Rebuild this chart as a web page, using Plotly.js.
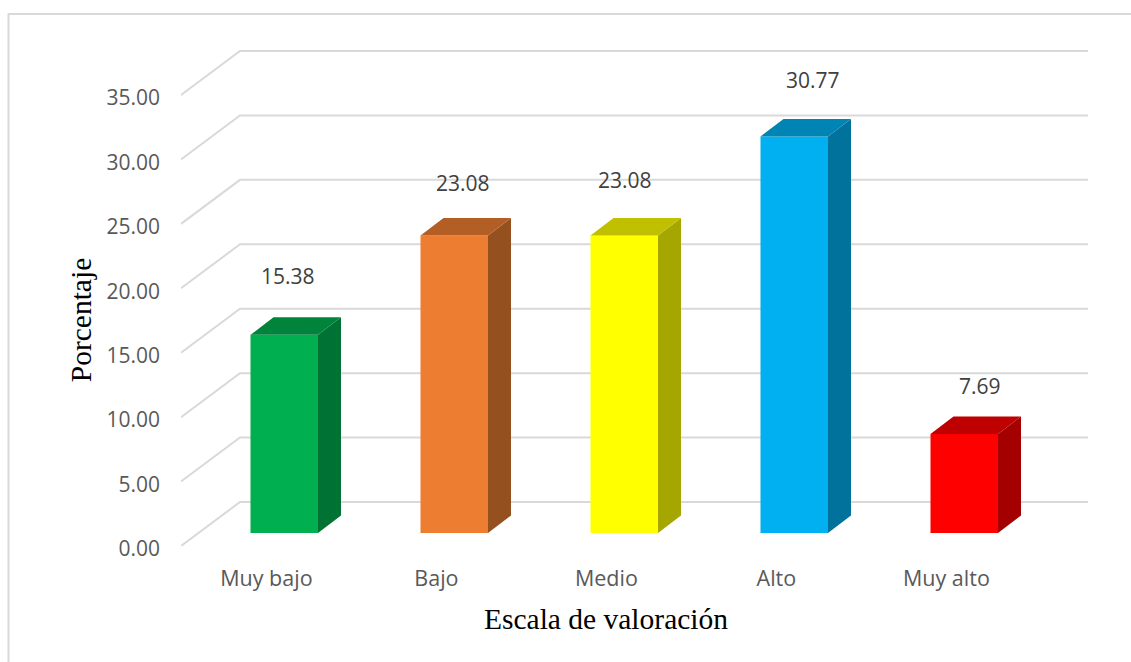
<!DOCTYPE html>
<html>
<head>
<meta charset="utf-8">
<script src="https://cdn.plot.ly/plotly-3.0.1.min.js"></script>
<style>html,body{margin:0;padding:0;background:#fff;overflow:hidden}#chart{width:1131px;height:662px}</style>
</head>
<body>
<div id="chart"></div>
<script>
const categories = ["Muy bajo", "Bajo", "Medio", "Alto", "Muy alto"];
const values = [15.38, 23.08, 23.08, 30.77, 7.69];
const valueLabels = ["15.38", "23.08", "23.08", "30.77", "7.69"];
const frontColors = ["#00b050", "#ed7d31", "#ffff00", "#00b0f0", "#ff0000"];
const topColors = ["#00843c", "#b25e25", "#c0c000", "#0084b4", "#bf0000"];
const sideColors = ["#007233", "#95501f", "#a6a600", "#00729c", "#a50000"];
const yTicks = [0, 5, 10, 15, 20, 25, 30, 35];
const yTickLabels = ["0.00", "5.00", "10.00", "15.00", "20.00", "25.00", "30.00", "35.00"];
const labelShiftX = [4, 9, 1, 19, 16];
const labelShiftY = [59, 53, 56, 57, 48];

// page geometry: full plot box, inner box that centres the axis titles, 3-D projection scale
const W = 1131, H = 662, L = 181, R = 1092, T = 40, B = 546, innerR = 1031, innerT = 94;
const pxPerCat = 170, pxPerVal = 12.886, firstCenter = 284.25;
const fullX = [(L - firstCenter) / pxPerCat, (R - firstCenter) / pxPerCat];
const fullY = [0, (B - T) / pxPerVal];
const innerX = [fullX[0], (innerR - firstCenter) / pxPerCat];
const innerY = [0, (B - innerT) / pxPerVal];
const wallDX = 59 / pxPerCat, wallDY = 44 / pxPerVal;
const wallEndX = (1088 - firstCenter) / pxPerCat;
const barW = 67.5 / pxPerCat, barDX = 23 / pxPerCat, barDY = 17.5 / pxPerVal, lift = 13 / pxPerVal;

const traces = [];
// gridlines: floor diagonal + back wall line for every tick
const gx = [], gy = [];
yTicks.forEach(v => {
  gx.push(fullX[0], fullX[0] + wallDX, wallEndX, null);
  gy.push(v, v + wallDY, v + wallDY, null);
});
traces.push({type: "scatter", mode: "lines", x: gx, y: gy,
  line: {color: "#d9d9d9", width: 2}, showlegend: false, hoverinfo: "skip"});

// front faces
traces.push({type: "bar", x: categories.map((c, i) => i), y: values, base: lift, width: barW,
  marker: {color: frontColors, line: {width: 0}}, xaxis: "x2", yaxis: "y2", showlegend: false, hoverinfo: "skip"});

// side and top faces
values.forEach((v, i) => {
  const r = i + barW / 2, l = i - barW / 2;
  traces.push({type: "scatter", mode: "lines", fill: "toself", fillcolor: sideColors[i],
    x: [r, r + barDX, r + barDX, r, r], y: [lift, lift + barDY, v + lift + barDY, v + lift, lift],
    line: {width: 0, color: sideColors[i]}, xaxis: "x2", yaxis: "y2", showlegend: false, hoverinfo: "skip"});
  traces.push({type: "scatter", mode: "lines", fill: "toself", fillcolor: topColors[i],
    x: [l, l + barDX, r + barDX, r, l], y: [v + lift, v + lift + barDY, v + lift + barDY, v + lift, v + lift],
    line: {width: 0, color: topColors[i]}, xaxis: "x2", yaxis: "y2", showlegend: false, hoverinfo: "skip"});
});

const annotations = values.map((v, i) => ({
  x: i, y: v + lift, xref: "x2", yref: "y2", text: valueLabels[i], showarrow: false,
  xshift: labelShiftX[i], yshift: labelShiftY[i],
  font: {family: "Open Sans, sans-serif", size: 21, color: "#404040"}
}));

const frameX = (8.5 - L) / (R - L), frameY = 1 + (T - 14) / (B - T);
const layout = {
  width: W, height: H, showlegend: false,
  paper_bgcolor: "#fff", plot_bgcolor: "rgba(0,0,0,0)",
  margin: {l: L, r: W - R, t: T, b: H - B, pad: 0},
  xaxis: {range: fullX, visible: false},
  yaxis: {range: fullY, visible: false},
  xaxis2: {type: "linear", range: innerX, anchor: "y2", domain: [0, (innerR - L) / (R - L)], tickmode: "array",
    tickvals: categories.map((c, i) => i - 0.105), ticktext: categories,
    showgrid: false, zeroline: false, showline: false, ticks: "", ticklabelstandoff: 17,
    tickfont: {family: "Open Sans, sans-serif", size: 21.5, color: "#595959"},
    title: {text: "Escala de valoración", standoff: 17, font: {family: "Liberation Serif, serif", size: 29.5, color: "#000"}}},
  yaxis2: {range: innerY, anchor: "x2", domain: [0, (B - innerT) / (B - T)], tickmode: "array", tickvals: yTicks, ticktext: yTickLabels,
    showgrid: false, zeroline: false, showline: false, ticks: "", ticklabelstandoff: 20, ticklabelshift: 3,
    tickfont: {family: "Open Sans, sans-serif", size: 21, color: "#595959"},
    title: {text: "Porcentaje", standoff: 6, font: {family: "Liberation Serif, serif", size: 29.5, color: "#000"}}},
  annotations: annotations,
  shapes: [{type: "path", xref: "paper", yref: "paper", layer: "below",
    path: `M ${frameX} ${-(H - B) / (B - T)} L ${frameX} ${frameY} L ${1 + (W - R) / (R - L)} ${frameY}`,
    line: {color: "#d9d9d9", width: 2}}],
  hovermode: false
};
Plotly.newPlot("chart", traces, layout, {displayModeBar: false, staticPlot: true});
</script>
</body>
</html>
